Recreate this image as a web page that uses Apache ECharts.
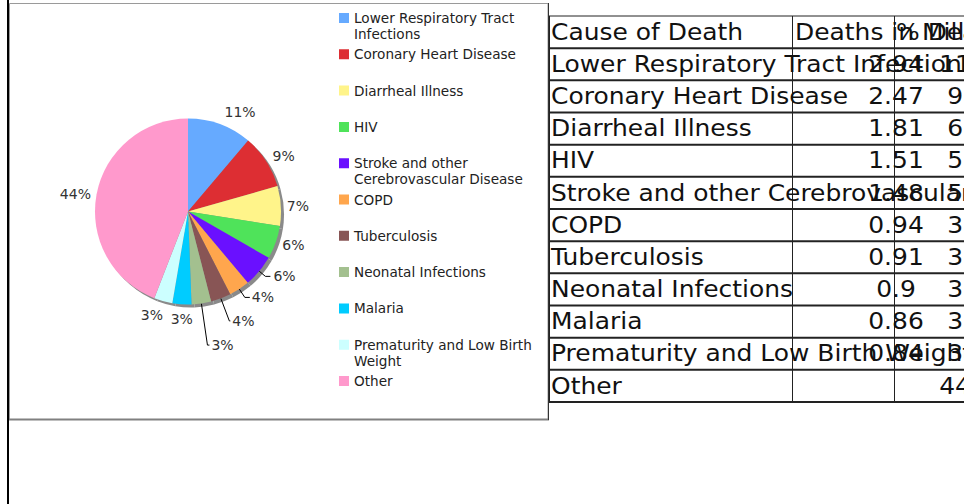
<!DOCTYPE html>
<html><head><meta charset="utf-8">
<script src="https://cdn.jsdelivr.net/npm/echarts@6/dist/echarts.min.js"></script>
<style>html,body{margin:0;padding:0;background:#fff}#c{width:964px;height:504px}</style>
</head><body><div id="c"></div><script>
// ---- data ----
const causes = ['Lower Respiratory Tract Infections','Coronary Heart Disease','Diarrheal Illness','HIV','Stroke and other Cerebrovascular Disease','COPD','Tuberculosis','Neonatal Infections','Malaria','Prematurity and Low Birth Weight','Other'];
const deathsMillions = [2.94, 2.47, 1.81, 1.51, 1.48, 0.94, 0.91, 0.9, 0.86, 0.84, null];
const percentDeaths = [11.2, 9.4, 6.9, 5.8, 5.6, 3.6, 3.5, 3.4, 3.3, 3.2, 44.1];
const tableHeaders = ['Cause of Death', 'Deaths in Millions', '% Deaths'];

// ---- styles ----
const colors = ['#66aaff','#dd2e33','#fff48a','#4fe35a','#6a10ff','#ffa64d','#885555','#a3c08f','#00ccff','#ccffff','#ff99cc'];
// per-slice label styling: [radial line length, horizontal length, distance to line, show line]
const labelStyles = [
  [13, 0, 0, false], [10, 0, -2, false], [6, 0, 0, false], [7, 0, 0, false],
  [8, 5, 3, true], [10, 5, 2, true], [24, 1, 2, true], [42, 2, 2, true],
  [15, 0, -12, false], [14, 0, -3.5, false], [4, 0, 1.7, false]
];
const FONT = 'DejaVu Sans';

function wrap(name, maxChars) {
  const words = name.split(' ');
  const lines = [];
  let cur = '';
  words.forEach(w => {
    const t = cur ? cur + ' ' + w : w;
    if (t.length > maxChars && cur) { lines.push(cur); cur = w; } else cur = t;
  });
  lines.push(cur);
  if (lines.length < 2) lines.push('\u00a0');
  return lines.join('\n');
}

const chart = echarts.init(document.getElementById('c'), null, {renderer: 'svg'});

// table graphic built from arrays
const T = {top: 16, rowH: 32.17, lines: [549, 792, 894], fs: 23, sx: 1.085};
const rows = [tableHeaders].concat(causes.map((c, i) => [
  c,
  deathsMillions[i] == null ? '' : String(deathsMillions[i]),
  percentDeaths[i].toFixed(1)
]));
const nRows = rows.length;
const graphics = [];
graphics.push({type: 'rect', shape: {x: 7, y: 0, width: 2, height: 504}, style: {fill: '#000'}, silent: true});
graphics.push({type: 'rect', shape: {x: 9.5, y: 3.5, width: 538.5, height: 416}, style: {fill: 'none', stroke: '#9a9a9a', lineWidth: 1}, silent: true});
graphics.push({type: 'line', shape: {x1: 9, y1: 419.5, x2: 549, y2: 419.5}, style: {stroke: '#808080', lineWidth: 2}, silent: true});
graphics.push({type: 'line', shape: {x1: 548.5, y1: 3, x2: 548.5, y2: 420}, style: {stroke: '#333', lineWidth: 1}, silent: true});
for (let r = 0; r <= nRows; r++) {
  const y = T.top + r * T.rowH;
  graphics.push({type: 'line', shape: {x1: T.lines[0], y1: y, x2: 964, y2: y},
    style: {stroke: '#222', lineWidth: r === 0 ? 1 : 2}, silent: true});
}
T.lines.forEach(x => {
  graphics.push({type: 'line', shape: {x1: x + 0.5, y1: T.top, x2: x + 0.5, y2: T.top + nRows * T.rowH},
    style: {stroke: '#222', lineWidth: 1}, silent: true});
});
rows.forEach((row, r) => {
  const y = T.top + r * T.rowH + T.rowH / 2;
  const head = r === 0;
  const cells = [
    {x: 551, align: 'left'},
    head ? {x: 795, align: 'left'} : {x: 896, align: 'center'},
    head ? {x: 896, align: 'left'} : {x: 967, align: 'center'}
  ];
  row.forEach((txt, c) => {
    if (!txt) return;
    graphics.push({type: 'text', x: cells[c].x, y: y, scaleX: T.sx, silent: true,
      style: {text: txt, fill: '#111', font: T.fs + 'px "' + FONT + '"', align: cells[c].align, verticalAlign: 'middle'}});
  });
});

const option = {
  animation: false,
  backgroundColor: '#fff',
  textStyle: {fontFamily: FONT},
  legend: {
    orient: 'vertical', left: 339, top: 10, padding: 0,
    itemWidth: 10, itemHeight: 32, itemGap: 4.3,
    icon: 'path://M0,0h0.01v0.01zM0,3h10v10h-10zM0,32h0.01v-0.01z',
    data: causes,
    formatter: n => wrap(n, 25),
    textStyle: {fontSize: 13.6, lineHeight: 16, color: '#222', fontFamily: FONT},
    selectedMode: false
  },
  graphic: graphics,
  series: [{
    type: 'pie', z: 3, center: [188, 211.5], radius: 93, startAngle: 90, clockwise: true,
    avoidLabelOverlap: false,
    itemStyle: {borderWidth: 0},
    emphasis: {disabled: true},
    label: {show: true, position: 'outside', fontSize: 14, color: '#333', fontFamily: FONT,
      formatter: p => Math.round(p.percent) + '%'},
    labelLine: {lineStyle: {color: '#000', width: 1}},
    data: causes.map((n, i) => ({
      name: n, value: percentDeaths[i], itemStyle: {color: colors[i]},
      label: {distanceToLabelLine: labelStyles[i][2]},
      labelLine: {show: labelStyles[i][3], length: labelStyles[i][0], length2: labelStyles[i][1]}
    }))
  }, {
    type: 'pie', z: 1, silent: true, center: [191, 214.5], radius: 93, startAngle: 90,
    label: {show: false}, labelLine: {show: false}, emphasis: {disabled: true},
    itemStyle: {color: '#8a8a8a', borderWidth: 0},
    data: percentDeaths.map(v => ({value: v}))
  }]
};
chart.setOption(option);
</script></body></html>
